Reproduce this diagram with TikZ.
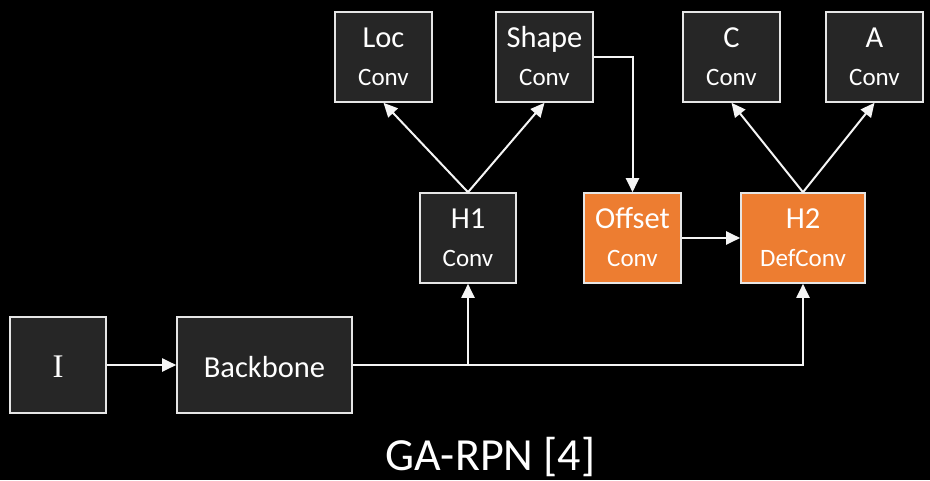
\documentclass[tikz,border=0pt]{standalone}
\usepackage{fontspec}
\setmainfont{Carlito}
\newfontfamily\serifI{Liberation Serif}
\usetikzlibrary{arrows.meta}
\definecolor{boxfill}{HTML}{262626}
\definecolor{boxline}{HTML}{E6E6E6}
\definecolor{accent}{HTML}{ED7D31}
\definecolor{wire}{HTML}{F5F5F5}
\tikzset{
  blk/.style={draw=boxline, line width=1.6pt, fill=boxfill, minimum width=#1, minimum height=90pt, inner sep=0pt},
  blk/.default=97pt,
  hot/.style={fill=accent},
  toptext/.style={anchor=base, text=white, inner sep=0pt, font=\fontsize{30.5}{36}\selectfont},
  subtext/.style={anchor=base, text=white, inner sep=0pt, font=\fontsize{25}{30}\selectfont},
  wireline/.style={draw=wire, line width=2pt},
  flow/.style={wireline, -{Triangle[length=14pt,width=13pt]}}
}
\begin{document}
\begin{tikzpicture}[x=1pt,y=-1pt]
  \fill[black] (0,0) rectangle (930,480);
  \useasboundingbox (0,0) rectangle (930,480);

  % input and backbone
  \node[blk, minimum width=96pt, minimum height=96pt] (img) at (58,365) {};
  \node[anchor=base, text=white, inner sep=0pt, font=\serifI\fontsize{33}{40}\selectfont] (img-t) at ([yshift=-12pt]img.center) {I};
  \node[blk, minimum width=175pt, minimum height=96pt] (bb) at (264.5,365) {};
  \node[toptext] (bb-t) at ([yshift=-12pt]bb.center) {Backbone};

  % heads
  \node[blk=96pt] (h1) at (468,238) {};
  \node[blk, hot] (off) at (632.5,238) {};
  \node[blk=124pt, hot] (h2) at (803,238) {};

  % outputs
  \node[blk] (loc) at (383.5,57) {};
  \node[blk] (shape) at (544.5,57) {};
  \node[blk] (cls) at (731.5,57) {};
  \node[blk] (anc) at (874.5,57) {};

  % box labels
  \foreach \n/\a/\b in {h1/H1/Conv, off/Offset/Conv, h2/H2/DefConv, loc/Loc/Conv, shape/Shape/Conv, cls/C/Conv, anc/A/Conv}{
    \node[toptext] (\n-a) at ([yshift=-36.5pt]\n.north) {\a};
    \node[subtext] (\n-b) at ([yshift=-74pt]\n.north) {\b};
  }

  % connectors
  \draw[flow] (img.east) -- (bb.west);
  \coordinate (split) at (h1.south |- bb.east);
  \draw[flow] (bb.east) -| (h2.south);
  \draw[flow] (split) -- (h1.south);
  \draw[flow] (h1.north) -- (loc.south);
  \draw[flow] (h1.north) -- (shape.south);
  \draw[flow] (h2.north) -- (cls.south);
  \draw[flow] (h2.north) -- (anc.south);
  \draw[flow] (shape.east) -| (off.north);
  \draw[flow] (off.east) -- (h2.west);

  % caption
  \node[anchor=base, text=white, inner sep=0pt, font=\fontsize{46}{54}\selectfont] (caption) at (490.5,470) {GA-RPN [4]};
\end{tikzpicture}
\end{document}
